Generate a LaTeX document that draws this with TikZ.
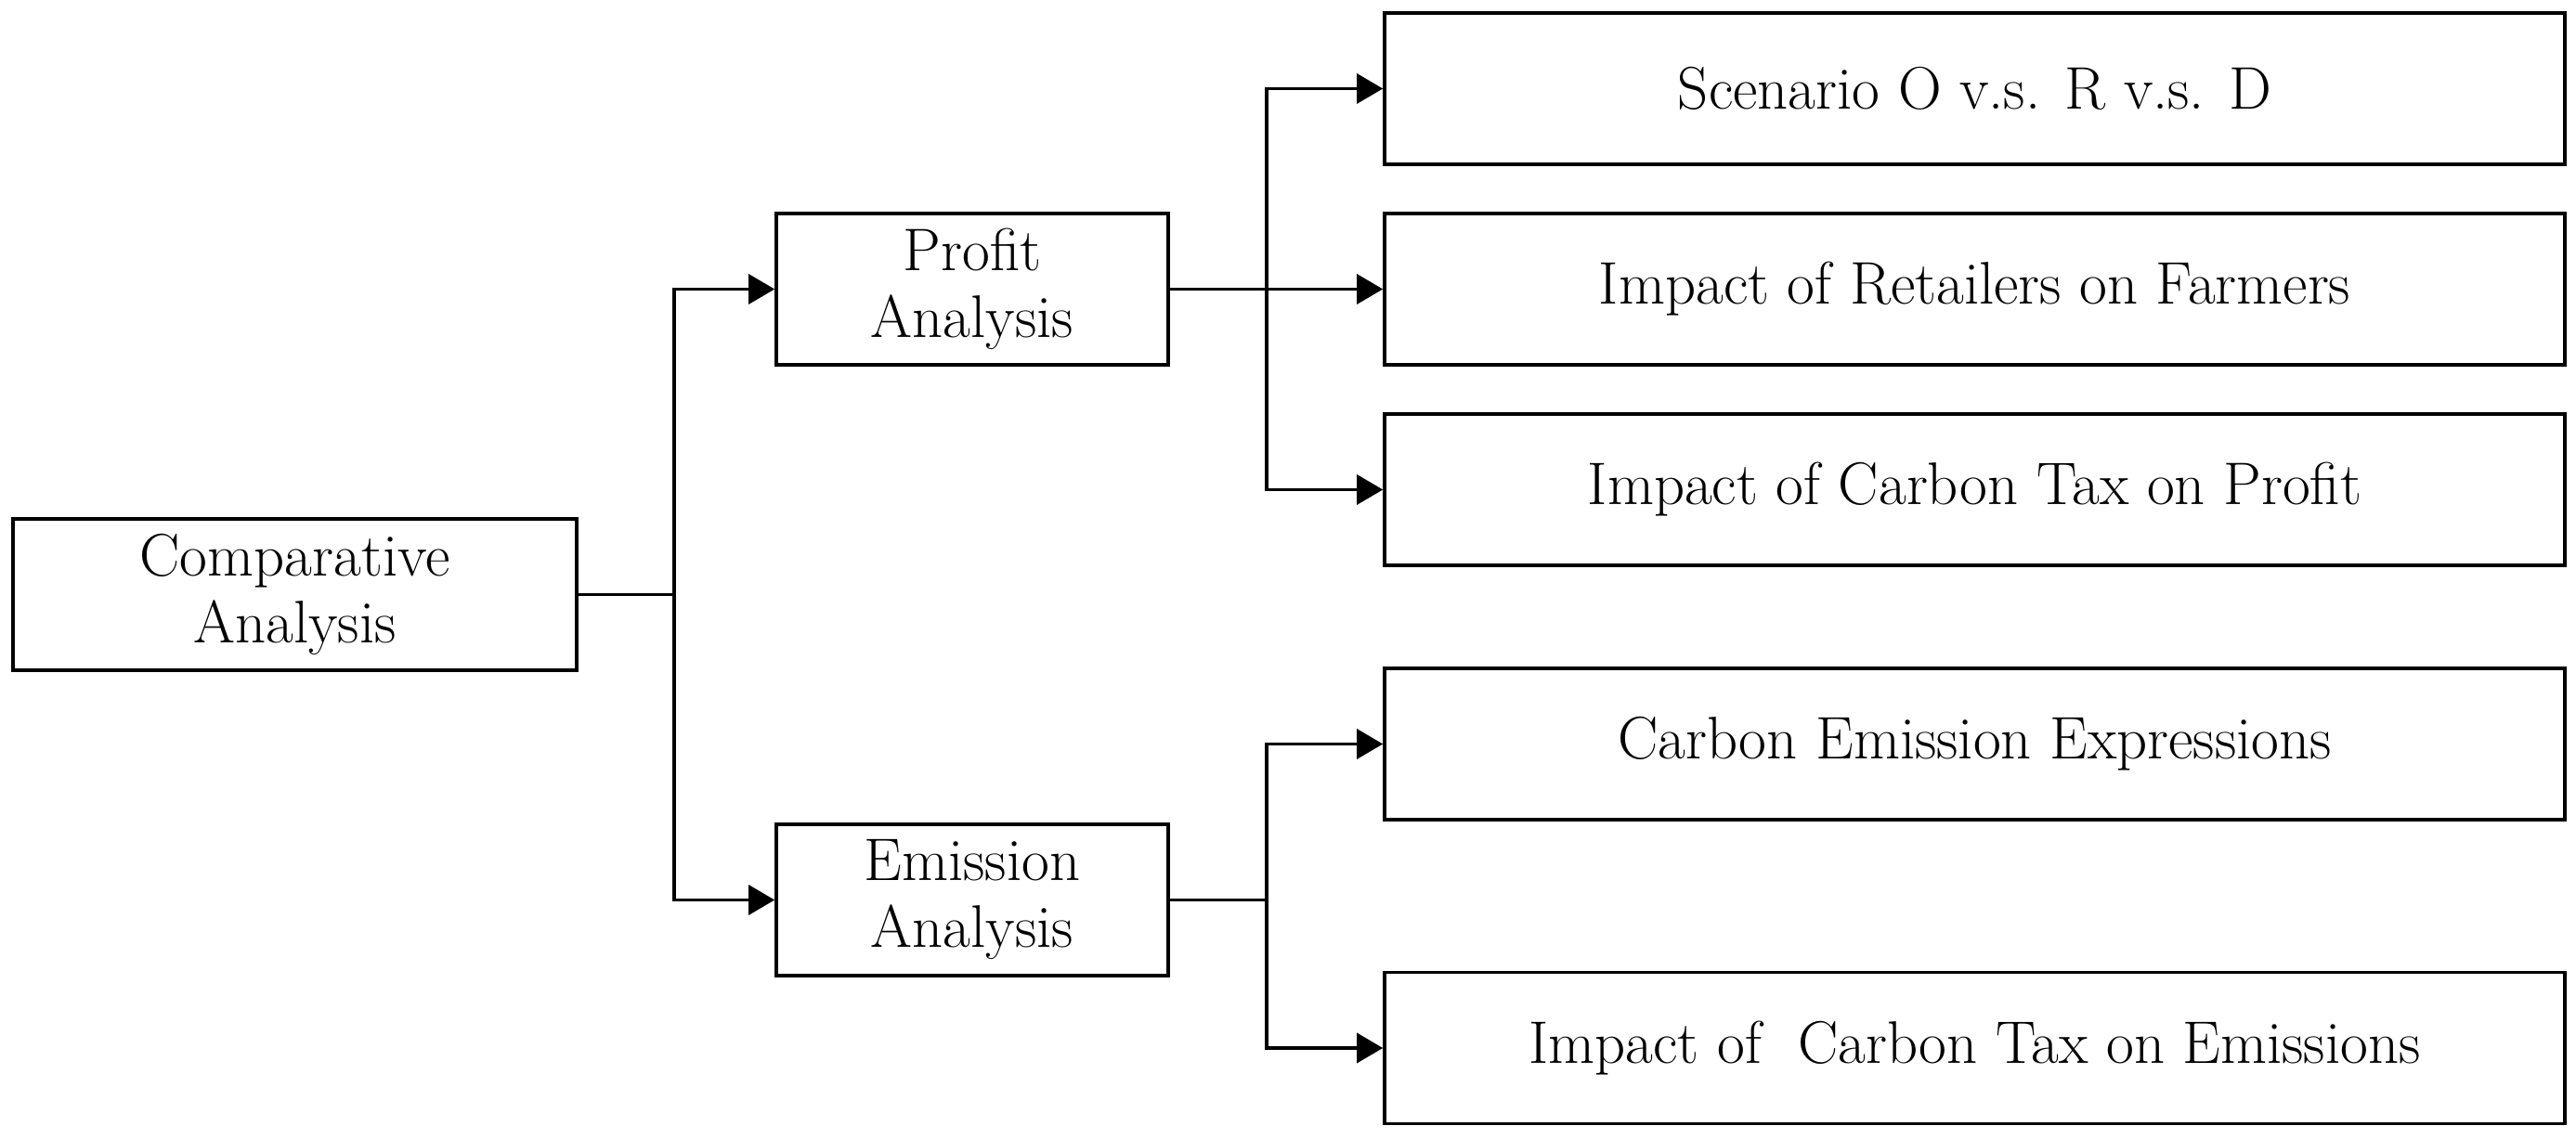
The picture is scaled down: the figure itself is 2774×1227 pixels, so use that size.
\documentclass[tikz,border=0pt]{standalone}
\usetikzlibrary{arrows.meta}
\begin{document}
\begin{tikzpicture}[x=0.25pt,y=-0.25pt,
  box/.style={draw, line width=0.9pt, inner sep=0pt, align=center,
    font=\fontsize{16.2}{18}\selectfont, minimum height=40.75pt},
  smallbox/.style={box, minimum width=105.5pt},
  wide/.style={box, minimum width=317.75pt},
  conn/.style={line width=0.8pt},
  arr/.style={conn, -{Triangle[length=7pt,width=8pt]}}]
\path[use as bounding box] (0,0) rectangle (2774,1227);
\node[box, minimum width=151.75pt] (comp) at (317.5,640.5) {Comparative\\Analysis};
\node[smallbox] (profit) at (1047,311.5) {Profit\\Analysis};
\node[smallbox] (emis) at (1047,969.5) {Emission\\Analysis};
\node[wide] (s1) at (2126.5,95.5) {Scenario O v.s. R v.s. D};
\node[wide] (s2) at (2126.5,311.5) {Impact of Retailers on Farmers};
\node[wide] (s3) at (2126.5,527.5) {Impact of Carbon Tax on Profit};
\node[wide] (e1) at (2126.5,801.5) {Carbon Emission Expressions};
\node[wide] (e2) at (2126.5,1129) {Impact of \ Carbon Tax on Emissions};
\coordinate (j1) at (726,640.5);
\coordinate (j2) at (1364,311.5);
\coordinate (j3) at (1364,969.5);
\draw[conn] (comp.east) -- (j1);
\draw[arr] (j1) |- (profit.west);
\draw[arr] (j1) |- (emis.west);
\draw[conn] (profit.east) -- (j2);
\draw[arr] (j2) |- (s1.west);
\draw[arr] (j2) -- (s2.west);
\draw[arr] (j2) |- (s3.west);
\draw[conn] (emis.east) -- (j3);
\draw[arr] (j3) |- (e1.west);
\draw[arr] (j3) |- (e2.west);
\end{tikzpicture}
\end{document}
